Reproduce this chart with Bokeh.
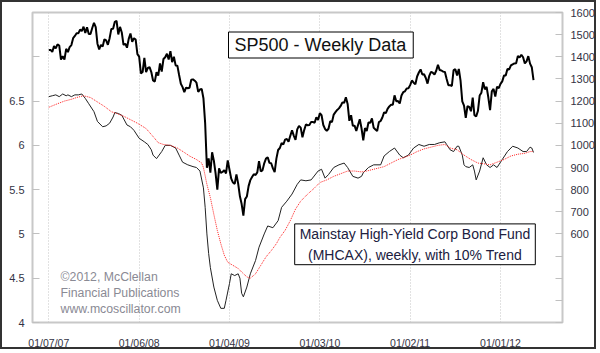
import numpy as np
import pandas as pd
from bokeh.plotting import figure
from bokeh.models import Range1d, LinearAxis, FixedTicker, Label
from bokeh.embed import file_html
from bokeh.resources import INLINE

# ---------------- data ----------------
first_week = "2007-01-07"          # weekly points, one per week from this Sunday
sp_2007 = [1431, 1431, 1422, 1448, 1438, 1456, 1451, 1387, 1403, 1387, 1436, 1421, 1444,
           1453, 1484, 1494, 1506, 1506, 1523, 1516, 1536, 1508, 1533, 1503, 1503, 1530,
           1553, 1534, 1459, 1433, 1454, 1446, 1479, 1474, 1454, 1484, 1526, 1527, 1558,
           1562, 1501, 1535, 1510, 1454, 1459, 1441, 1481, 1505, 1468, 1484, 1478, 1412]
sp_2008 = [1401, 1325, 1331, 1395, 1331, 1350, 1353, 1331, 1293, 1288, 1330, 1315, 1370,
           1333, 1390, 1398, 1414, 1388, 1425, 1376, 1400, 1361, 1360, 1318, 1278, 1263,
           1240, 1261, 1258, 1260, 1296, 1298, 1292, 1283, 1242, 1252, 1255, 1213, 1099,
           899, 941, 877, 969, 931, 873, 800, 896, 876, 880, 888, 873, 932]
sp_2009 = [890, 850, 832, 826, 869, 827, 770, 735, 683, 757, 769, 816, 843, 857, 870, 866,
           878, 929, 883, 887, 919, 940, 946, 921, 919, 896, 879, 940, 979, 988, 1010, 1004,
           1026, 1029, 1016, 1043, 1068, 1044, 1025, 1072, 1088, 1080, 1036, 1069, 1094,
           1091, 1092, 1106, 1106, 1102, 1127, 1115]
sp_2010 = [1145, 1136, 1092, 1074, 1066, 1075, 1109, 1105, 1139, 1150, 1160, 1167, 1178,
           1194, 1192, 1217, 1187, 1111, 1136, 1088, 1089, 1065, 1092, 1118, 1077, 1023,
           1078, 1065, 1103, 1102, 1122, 1079, 1072, 1065, 1105, 1110, 1126, 1149, 1146,
           1165, 1176, 1183, 1183, 1226, 1199, 1200, 1189, 1225, 1240, 1244, 1257, 1258]
sp_2011 = [1272, 1293, 1283, 1276, 1311, 1329, 1343, 1320, 1321, 1304, 1279, 1314, 1332,
           1328, 1320, 1337, 1364, 1340, 1338, 1333, 1331, 1300, 1271, 1272, 1268, 1340,
           1344, 1316, 1345, 1292, 1199, 1179, 1124, 1177, 1174, 1154, 1216, 1136, 1131,
           1155, 1225, 1238, 1285, 1253, 1264, 1216, 1159, 1244, 1255, 1220, 1265, 1258]
sp_2012 = [1278, 1289, 1315, 1316, 1345, 1343, 1361, 1366, 1370, 1371, 1404, 1397, 1409,
           1398, 1370, 1379, 1403, 1369, 1353, 1295]
sp500 = sp_2007 + sp_2008 + sp_2009 + sp_2010 + sp_2011 + sp_2012

# MHCAX weekly NAV (week number counted from first_week)
hy_week = [0, 2, 4, 6, 8, 10, 11, 13, 15, 17, 19, 21, 23, 26, 28, 31, 33, 35, 37, 38, 40, 42,
           45, 47, 49, 52, 55, 57, 59, 60, 62, 65, 67, 70, 73, 75, 77, 80, 83, 85, 87, 89, 90,
           91, 92, 93, 95, 97, 99, 101, 102, 104, 105, 107, 109, 110, 111, 112, 114, 116, 119,
           121, 124, 126, 129, 132, 134, 137, 140, 143, 145, 148, 151, 155, 157, 159, 161, 164,
           167, 170, 172, 175, 178, 180, 181, 184, 187, 191, 193, 196, 199, 202, 204, 207, 210,
           213, 216, 219, 222, 225, 228, 229, 231, 233, 235, 236, 238, 239, 240, 242, 244, 245,
           246, 248, 250, 252, 254, 256, 258, 261, 264, 267, 270, 273, 275, 277, 278, 279]
hy_nav = [6.55, 6.56, 6.57, 6.55, 6.58, 6.56, 6.57, 6.55, 6.57, 6.57, 6.58, 6.53, 6.47, 6.38,
          6.27, 6.21, 6.22, 6.25, 6.32, 6.37, 6.36, 6.34, 6.23, 6.21, 6.17, 6.08, 6.04, 6.01,
          5.95, 5.89, 5.85, 5.93, 6.00, 6.00, 5.97, 5.89, 5.81, 5.78, 5.76, 5.75, 5.71, 5.52,
          5.30, 5.00, 4.78, 4.62, 4.40, 4.25, 4.16, 4.16, 4.25, 4.44, 4.55, 4.53, 4.55, 4.50,
          4.33, 4.29, 4.40, 4.55, 4.70, 4.85, 5.00, 5.09, 5.07, 5.15, 5.30, 5.37, 5.45, 5.56,
          5.61, 5.60, 5.61, 5.71, 5.73, 5.63, 5.67, 5.75, 5.78, 5.80, 5.75, 5.65, 5.63, 5.65,
          5.69, 5.75, 5.78, 5.78, 5.88, 5.93, 5.97, 5.89, 5.86, 5.89, 5.97, 6.01, 5.99, 6.01,
          6.01, 6.03, 6.04, 6.01, 5.95, 5.93, 5.99, 5.99, 5.89, 5.78, 5.76, 5.75, 5.78, 5.71,
          5.61, 5.71, 5.86, 5.78, 5.75, 5.78, 5.75, 5.84, 5.93, 5.99, 5.97, 5.93, 5.93, 5.98,
          5.97, 5.92]

# 10% trend of MHCAX (red dotted)
tr_week = [0, 5, 9, 13, 16, 20, 24, 28, 32, 36, 39, 43, 47, 51, 56, 60, 63, 66, 70, 74, 78, 81,
           85, 88, 89, 91, 93, 95, 97, 99, 101, 103, 106, 109, 111, 114, 116, 119, 122, 125,
           128, 131, 133, 136, 139, 142, 145, 149, 153, 156, 160, 164, 168, 172, 176, 180,
           183, 187, 191, 193, 197, 201, 204, 208, 212, 216, 220, 224, 228, 231, 235, 239,
           243, 247, 251, 254, 258, 262, 266, 270, 274, 277, 279]
tr_val = [6.43, 6.47, 6.50, 6.52, 6.54, 6.56, 6.54, 6.49, 6.44, 6.38, 6.36, 6.33, 6.29, 6.25,
          6.19, 6.10, 6.03, 6.01, 6.00, 5.97, 5.92, 5.88, 5.84, 5.80, 5.75, 5.56, 5.41, 5.22,
          5.04, 4.89, 4.76, 4.68, 4.645, 4.61, 4.57, 4.515, 4.50, 4.55, 4.645, 4.74, 4.81,
          4.89, 4.96, 5.04, 5.15, 5.28, 5.37, 5.45, 5.52, 5.58, 5.61, 5.65, 5.68, 5.71, 5.71,
          5.70, 5.71, 5.73, 5.75, 5.76, 5.80, 5.84, 5.86, 5.89, 5.93, 5.96, 5.98, 6.00, 6.01,
          5.97, 5.95, 5.89, 5.84, 5.80, 5.79, 5.78, 5.81, 5.84, 5.88, 5.90, 5.91, 5.93, 5.93]

x_tick_labels = ["01/07/07", "01/06/08", "01/04/09", "01/03/10", "01/02/11", "01/01/12"]
hy_ticks = [4, 4.5, 5, 5.5, 6, 6.5, 7]
hy_tick_labels = ["4", "4.5", "5", "5.5", "6", "6.5", ""]
sp_ticks = [200, 300, 400, 500, 600, 700, 800, 900, 1000, 1100, 1200, 1300, 1400, 1500, 1600]
sp_tick_labels = ["", "", "", "", "600", "700", "800", "900", "1000", "1100", "1200",
                  "1300", "1400", "1500", "1600"]

title_text = "SP500 - Weekly Data"
legend_text = "Mainstay High-Yield Corp Bond Fund\n(MHCAX), weekly, with 10% Trend"
credit_text = "\u00a92012, McClellan\nFinancial Publications\nwww.mcoscillator.com"

# ---------------- helpers ----------------
EPOCH = pd.Timestamp("1970-01-01")
MS = pd.Timedelta(milliseconds=1)
t0 = pd.Timestamp(first_week)


def week_ms(weeks):
    return [((t0 + pd.Timedelta(days=7 * int(w))) - EPOCH) / MS for w in weeks]


sp_x = week_ms(range(len(sp500)))
hy_x = week_ms(hy_week)
tr_x = week_ms(tr_week)
tick_dates = pd.to_datetime(x_tick_labels, format="%m/%d/%y")
x_ticks = [(d - EPOCH) / MS for d in tick_dates]

day = 86400000.0
x_start = (t0 - EPOCH) / MS - 65.7 * day
x_end = (t0 - EPOCH) / MS + 2069.8 * day

FONT = "Liberation Sans"

p = figure(width=596, height=349, output_backend="svg", toolbar_location=None,
           x_range=Range1d(x_start, x_end), y_range=Range1d(4, 7.5),
           min_border_left=30, min_border_right=36, min_border_top=10, min_border_bottom=25,
           background_fill_color="white", border_fill_color="white")
p.styles = {"border": "2px solid #333333"}
p.extra_y_ranges = {"sp": Range1d(200, 1600)}

p.outline_line_color = "#c8c8c8"
p.outline_line_width = 2

# x axis
xa = p.xaxis[0]
xa.ticker = FixedTicker(ticks=x_ticks)
xa.major_label_overrides = {t: lab for t, lab in zip(x_ticks, x_tick_labels)}
xa.axis_line_color = None
xa.major_tick_line_color = None
xa.minor_tick_line_color = None
xa.major_label_standoff = 8
xa.major_label_text_font = FONT
xa.major_label_text_font_size = "10.5px"
xa.major_label_text_color = "#333344"

p.xgrid.grid_line_color = "#c4c4c4"
p.xgrid.grid_line_dash = "1 2"
p.ygrid.grid_line_color = None

# left axis
ya = p.yaxis[0]
ya.ticker = FixedTicker(ticks=hy_ticks)
ya.major_label_overrides = {t: lab for t, lab in zip(hy_ticks, hy_tick_labels)}
# right axis
ra = LinearAxis(y_range_name="sp", ticker=FixedTicker(ticks=sp_ticks))
ra.major_label_overrides = {t: lab for t, lab in zip(sp_ticks, sp_tick_labels)}
p.add_layout(ra, "right")

for ax in (ya, ra):
    ax.axis_line_color = None
    ax.major_tick_in = 7
    ax.major_tick_out = 0
    ax.major_tick_line_color = "#c0c0c0"
    ax.minor_tick_line_color = None
    ax.major_label_standoff = 8
    ax.major_label_text_font = FONT
    ax.major_label_text_font_size = "11px"
    ax.major_label_text_color = "#333344"

# lines
p.line(hy_x, hy_nav, line_color="#222222", line_width=1)
p.line(tr_x, tr_val, line_color="#ff2020", line_width=1, line_dash="1 1")
p.line(sp_x, sp500, y_range_name="sp", line_color="black", line_width=2)

# annotations (screen units relative to plot frame, origin bottom-left)
p.add_layout(Label(x=196, y=277.5, x_units="screen", y_units="screen", text=title_text,
                   text_font=FONT, text_font_size="18px", text_color="#111111",
                   text_align="left", text_baseline="middle",
                   border_line_color="black", border_line_width=1,
                   background_fill_color="white",
                   padding=dict(left=6, right=7, top=3, bottom=3)))
p.add_layout(Label(x=382.5, y=78.2, x_units="screen", y_units="screen", text=legend_text,
                   text_font=FONT, text_font_size="14px", text_color="#202040",
                   text_align="center", text_baseline="middle", text_line_height=1.3,
                   border_line_color="black", border_line_width=1,
                   background_fill_color="white",
                   padding=dict(left=5, right=5, top=2, bottom=2)))
p.add_layout(Label(x=28, y=29.3, x_units="screen", y_units="screen", text=credit_text,
                   text_font=FONT, text_font_size="12.3px", text_color="#8a8a94",
                   text_align="left", text_baseline="middle", text_line_height=1.16))

open("out.html", "w").write(file_html(p, INLINE))
